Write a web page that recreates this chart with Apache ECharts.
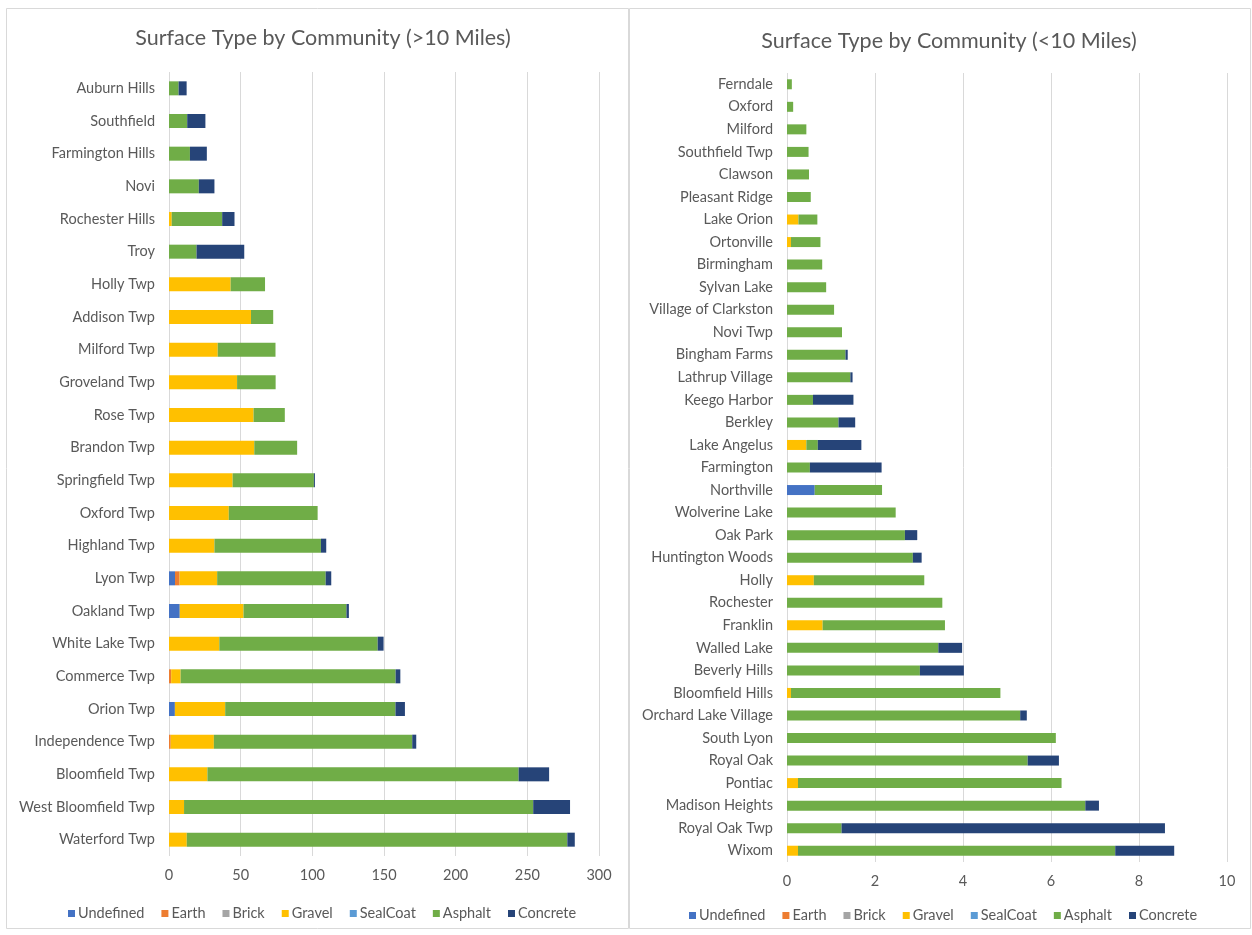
<!DOCTYPE html>
<html>
<head>
<meta charset="utf-8">
<style>
  html, body { margin: 0; padding: 0; background: #ffffff; }
  #chart { width: 1252px; height: 935px; }
</style>
<script src="https://cdn.jsdelivr.net/npm/echarts@6/dist/echarts.min.js"></script>
</head>
<body>
<div id="chart"></div>
<script>
// Surface types (legend order)
const surfaceTypes = ['Undefined', 'Earth', 'Brick', 'Gravel', 'SealCoat', 'Asphalt', 'Concrete'];
const surfaceColors = ['#4472c4', '#ed7d31', '#a5a5a5', '#ffc000', '#5b9bd5', '#70ad47', '#264478'];

// Communities with more than 10 miles of road
const farCommunities = ['Auburn Hills', 'Southfield', 'Farmington Hills', 'Novi', 'Rochester Hills', 'Troy',
  'Holly Twp', 'Addison Twp', 'Milford Twp', 'Groveland Twp', 'Rose Twp', 'Brandon Twp', 'Springfield Twp',
  'Oxford Twp', 'Highland Twp', 'Lyon Twp', 'Oakland Twp', 'White Lake Twp', 'Commerce Twp', 'Orion Twp',
  'Independence Twp', 'Bloomfield Twp', 'West Bloomfield Twp', 'Waterford Twp'];
const farUndefined = [0, 0, 0, 0, 0, 0, 0, 0, 0, 0, 0, 0, 0, 0, 0, 4.2, 7.5, 0, 0, 4.1, 0, 0, 0, 0];
const farEarth     = [0, 0, 0, 0, 0, 0, 0, 0, 0, 0, 0, 0, 0, 0, 0, 3.2, 0, 0, 1.5, 0, 1.2, 0, 0, 0];
const farBrick     = [0, 0, 0, 0, 0, 0, 0, 0, 0, 0, 0, 0, 0, 0, 0, 0, 0, 0, 0, 0, 0, 0, 0, 0];
const farGravel    = [0, 0, 0, 0, 1.9, 0, 43, 57.2, 34, 47.5, 59, 59.5, 44.4, 41.7, 31.7, 26.2, 44.5, 35.1, 6.6, 35.1, 30.1, 26.8, 10.5, 12.4];
const farSealCoat  = [0, 0, 0, 0, 0, 0, 0, 0, 0, 0, 0, 0, 0, 0, 0, 0, 0, 0, 0, 0, 0, 0, 0, 0];
const farAsphalt   = [6.7, 12.7, 14.6, 20.8, 35.2, 19.2, 24, 15.5, 40.3, 26.9, 21.8, 29.9, 56.7, 62, 74.3, 75.7, 71.8, 110.5, 150, 118.8, 138.4, 217.1, 243.6, 265.5];
const farConcrete  = [5.6, 12.7, 11.8, 10.9, 8.6, 33.3, 0, 0, 0, 0, 0, 0, 0.7, 0, 3.7, 3.9, 1.7, 4.1, 3.3, 6.6, 2.8, 21.3, 25.7, 5.2];
const farTicks = { max: 300, interval: 50 };

// Communities with less than 10 miles of road
const nearCommunities = ['Ferndale', 'Oxford', 'Milford', 'Southfield Twp', 'Clawson', 'Pleasant Ridge',
  'Lake Orion', 'Ortonville', 'Birmingham', 'Sylvan Lake', 'Village of Clarkston', 'Novi Twp', 'Bingham Farms',
  'Lathrup Village', 'Keego Harbor', 'Berkley', 'Lake Angelus', 'Farmington', 'Northville', 'Wolverine Lake',
  'Oak Park', 'Huntington Woods', 'Holly', 'Rochester', 'Franklin', 'Walled Lake', 'Beverly Hills',
  'Bloomfield Hills', 'Orchard Lake Village', 'South Lyon', 'Royal Oak', 'Pontiac', 'Madison Heights',
  'Royal Oak Twp', 'Wixom'];
const nearUndefined = [0, 0, 0, 0, 0, 0, 0, 0, 0, 0, 0, 0, 0, 0, 0, 0, 0, 0, 0.63, 0, 0, 0, 0, 0, 0, 0, 0, 0, 0, 0, 0, 0, 0, 0, 0];
const nearEarth     = [0, 0, 0, 0, 0, 0, 0, 0, 0, 0, 0, 0, 0, 0, 0, 0, 0, 0, 0, 0, 0, 0, 0, 0, 0, 0, 0, 0, 0, 0, 0, 0, 0, 0, 0];
const nearBrick     = [0, 0, 0, 0, 0, 0, 0, 0, 0, 0, 0, 0, 0, 0, 0, 0, 0, 0, 0, 0, 0, 0, 0, 0, 0, 0, 0, 0, 0, 0, 0, 0, 0, 0, 0];
const nearGravel    = [0, 0, 0, 0, 0, 0, 0.26, 0.09, 0, 0, 0, 0, 0, 0, 0, 0, 0.44, 0, 0, 0, 0, 0, 0.61, 0, 0.81, 0, 0, 0.09, 0, 0, 0, 0.25, 0, 0, 0.25];
const nearSealCoat  = [0, 0, 0, 0, 0, 0, 0, 0, 0, 0, 0, 0, 0, 0, 0, 0, 0, 0, 0, 0, 0, 0, 0, 0, 0, 0, 0, 0, 0, 0, 0, 0, 0, 0, 0];
const nearAsphalt   = [0.11, 0.14, 0.44, 0.49, 0.50, 0.54, 0.43, 0.67, 0.80, 0.89, 1.07, 1.25, 1.33, 1.44, 0.59, 1.17, 0.26, 0.52, 1.53, 2.47, 2.68, 2.86, 2.51, 3.53, 2.78, 3.44, 3.02, 4.76, 5.30, 6.11, 5.47, 5.99, 6.78, 1.24, 7.21];
const nearConcrete  = [0, 0, 0, 0, 0, 0, 0, 0, 0, 0, 0, 0, 0.05, 0.05, 0.92, 0.38, 0.99, 1.63, 0, 0, 0.28, 0.2, 0, 0, 0, 0.54, 1.0, 0, 0.15, 0, 0.71, 0, 0.31, 7.35, 1.34];
const nearTicks = { max: 10, interval: 2 };

const farValues  = [farUndefined, farEarth, farBrick, farGravel, farSealCoat, farAsphalt, farConcrete];
const nearValues = [nearUndefined, nearEarth, nearBrick, nearGravel, nearSealCoat, nearAsphalt, nearConcrete];

const FONT = 'Lato, "Open Sans", sans-serif';
const TEXT = '#595959';
const GRID_LINE = '#d9d9d9';
const LABEL_SIZE = 14.5;

function valueAxis(gridIndex, ticks) {
  return {
    type: 'value', gridIndex, min: 0, max: ticks.max, interval: ticks.interval,
    axisLine: { show: false }, axisTick: { show: false },
    axisLabel: { color: TEXT, fontFamily: FONT, fontSize: LABEL_SIZE, margin: 12 },
    splitLine: { show: true, lineStyle: { color: GRID_LINE, width: 1 } }
  };
}
function categoryAxis(gridIndex, cats) {
  return {
    type: 'category', gridIndex, data: cats, inverse: true,
    axisLine: { show: false }, axisTick: { show: false },
    axisLabel: { color: TEXT, fontFamily: FONT, fontSize: LABEL_SIZE, margin: 14 }
  };
}
function barSeries(idx, values, stack, barWidth) {
  return surfaceTypes.map((name, i) => ({
    type: 'bar', name, stack, xAxisIndex: idx, yAxisIndex: idx,
    barWidth, data: values[i], itemStyle: { color: surfaceColors[i] },
    emphasis: { disabled: true }
  }));
}
function legend(left, top) {
  return {
    data: surfaceTypes, left, top, orient: 'horizontal',
    icon: 'rect', itemWidth: 7, itemHeight: 7, itemGap: 17,
    textStyle: { color: TEXT, fontFamily: FONT, fontSize: LABEL_SIZE, padding: [0, 0, 0, -2] },
    selectedMode: false
  };
}

const chart = echarts.init(document.getElementById('chart'), null, { renderer: 'canvas' });
chart.setOption({
  animation: false,
  backgroundColor: '#ffffff',
  graphic: [
    { type: 'rect', shape: { x: 6.5, y: 8.5, width: 622, height: 920 }, style: { fill: 'none', stroke: '#d9d9d9', lineWidth: 1 }, silent: true },
    { type: 'rect', shape: { x: 629.5, y: 8.5, width: 621, height: 920 }, style: { fill: 'none', stroke: '#d9d9d9', lineWidth: 1 }, silent: true }
  ],
  title: [
    { text: 'Surface Type by Community (>10 Miles)', left: 318, top: 22, textAlign: 'center',
      textStyle: { color: TEXT, fontFamily: FONT, fontSize: 21.5, fontWeight: 'normal' } },
    { text: 'Surface Type by Community (<10 Miles)', left: 944, top: 25, textAlign: 'center',
      textStyle: { color: TEXT, fontFamily: FONT, fontSize: 21.5, fontWeight: 'normal' } }
  ],
  legend: [legend(63, 901), legend(684, 903)],
  grid: [
    { left: 169, top: 72, width: 430, height: 784 },
    { left: 787, top: 73, width: 440, height: 789 }
  ],
  xAxis: [valueAxis(0, farTicks), valueAxis(1, nearTicks)],
  yAxis: [categoryAxis(0, farCommunities), categoryAxis(1, nearCommunities)],
  series: [...barSeries(0, farValues, 'far', 14), ...barSeries(1, nearValues, 'near', 10)]
});
</script>
</body>
</html>
